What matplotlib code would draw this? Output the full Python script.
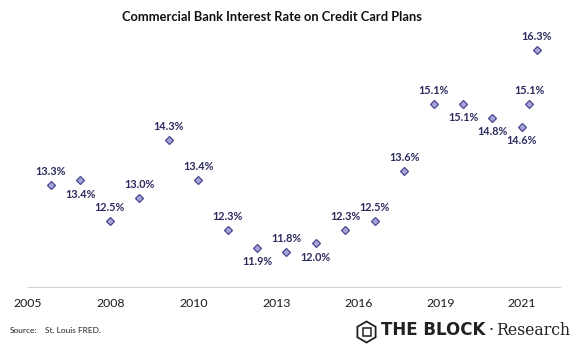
import matplotlib.pyplot as plt
from matplotlib.patches import RegularPolygon, Rectangle

# data (decimal years, rate in %)
years = [2005.9, 2006.9, 2007.9, 2008.9, 2009.9, 2010.9, 2011.9, 2012.9, 2013.9,
         2014.9, 2015.9, 2016.9, 2017.9, 2018.9, 2019.9, 2020.9, 2021.9, 2022.15, 2022.4]
rates = [13.3, 13.4, 12.5, 13.0, 14.3, 13.4, 12.3, 11.9, 11.8,
         12.0, 12.3, 12.5, 13.6, 15.1, 15.1, 14.8, 14.6, 15.1, 16.3]
# where each label sits relative to its marker
label_pos = ['above', 'below', 'above', 'above', 'above', 'above', 'above', 'below', 'above',
             'below', 'above', 'above', 'above', 'above', 'below', 'below', 'below', 'above', 'above']

tick_years = [2005.12, 2007.92, 2010.74, 2013.56, 2016.35, 2019.14, 2021.9]
tick_labels = ['2005', '2008', '2010', '2013', '2016', '2019', '2021']

navy = '#2b2a5e'
plt.rcParams['font.family'] = ['Lato', 'DejaVu Sans']

fig = plt.figure(figsize=(5.76, 3.45), dpi=100)
ax = fig.add_axes([0.0486, 0.168, 0.9234, 0.778])

ax.plot(years, rates, linestyle='none', marker='D', markersize=4,
        markerfacecolor='#a7a4d8', markeredgecolor='#4a4890', markeredgewidth=0.9)

for x, y, p in zip(years, rates, label_pos):
    dy = 10 if p == 'above' else -10
    ax.annotate(f'{y:.1f}%', (x, y), xytext=(0, dy), textcoords='offset points',
                ha='center', va='center', fontsize=7.8, fontweight='bold', color=navy)

ax.set_xlim(2005.12, 2023.19)
ax.set_ylim(11.03, 17.0)
ax.set_yticks([])
ax.set_xticks(tick_years)
ax.set_xticklabels(tick_labels, fontsize=8.8, color='#1a1a1a')
ax.tick_params(axis='x', length=0, pad=8)
for s in ['top', 'right', 'left']:
    ax.spines[s].set_visible(False)
ax.spines['bottom'].set_color('#d0d0d0')
ax.spines['bottom'].set_linewidth(0.8)

fig.text(0.472, 0.951, 'Commercial Bank Interest Rate on Credit Card Plans',
         ha='center', va='center', fontsize=9.3, fontweight='bold', color='#111111')

fig.text(0.017, 0.043, 'Source:', fontsize=6, va='center', color='#222222')
fig.text(0.078, 0.043, 'St. Louis FRED.', fontsize=6, va='center', color='#222222')

# logo
logo = RegularPolygon((3.665, 0.13), numVertices=6, radius=0.105, orientation=0,
                      transform=fig.dpi_scale_trans, fill=False, edgecolor='#222222', linewidth=1.3)
fig.patches.append(logo)
inner = Rectangle((3.625, 0.09), 0.08, 0.08, transform=fig.dpi_scale_trans,
                  fill=False, edgecolor='#222222', linewidth=1.1)
fig.patches.append(inner)
fig.text(3.81 / 5.76, 0.043, 'THE BLOCK', fontsize=12, fontweight='heavy', va='center',
         color='#222222', family=['DejaVu Sans'])
fig.text(4.88 / 5.76, 0.043, '\u00b7', fontsize=12, va='center',
         color='#222222', family=['DejaVu Serif'])
fig.text(4.96 / 5.76, 0.043, 'Research', fontsize=11.3, va='center',
         color='#222222', family=['DejaVu Serif'])

fig.savefig('out.png', dpi=100)
